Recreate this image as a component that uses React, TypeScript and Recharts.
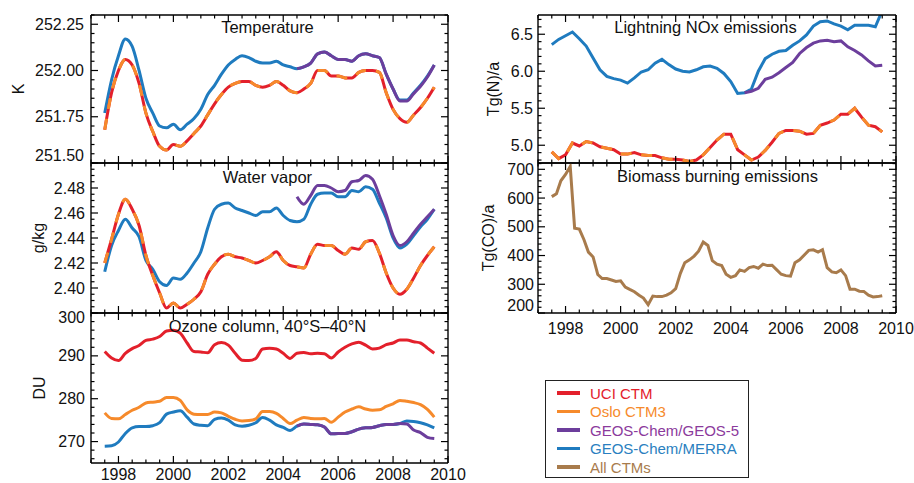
import React from "react"
import { LineChart, Line, XAxis, YAxis } from "recharts"

const FONT = '"Liberation Sans", Arial, Helvetica, sans-serif'

const RED = "#e3202b"
const ORANGE = "#f68a2b"
const PURPLE = "#6c3e9c"
const BLUE = "#1f7bbf"
const BROWN = "#a87b4c"

// quarterly time axis (12-month running means)
const years = [
  1997.5, 1997.75, 1998, 1998.25, 1998.5, 1998.75, 1999, 1999.25, 1999.5, 1999.75, 2000, 2000.25, 2000.5,
  2000.75, 2001, 2001.25, 2001.5, 2001.75, 2002, 2002.25, 2002.5, 2002.75, 2003, 2003.25, 2003.5, 2003.75,
  2004, 2004.25, 2004.5, 2004.75, 2005, 2005.25, 2005.5, 2005.75, 2006, 2006.25, 2006.5, 2006.75, 2007,
  2007.25, 2007.5, 2007.75, 2008, 2008.25, 2008.5, 2008.75, 2009, 2009.25, 2009.5,
]
// GEOS-5 run only starts mid 2004
const geos5Years = years.slice(28)

const bbYears = [
  1997.5, 1997.67, 1997.83, 1998, 1998.17, 1998.33, 1998.5, 1998.67, 1998.83, 1999, 1999.17, 1999.33, 1999.5,
  1999.67, 1999.83, 2000, 2000.17, 2000.33, 2000.5, 2000.67, 2000.83, 2001, 2001.17, 2001.33, 2001.5, 2001.67,
  2001.83, 2002, 2002.17, 2002.33, 2002.5, 2002.67, 2002.83, 2003, 2003.17, 2003.33, 2003.5, 2003.67, 2003.83,
  2004, 2004.17, 2004.33, 2004.5, 2004.67, 2004.83, 2005, 2005.17, 2005.33, 2005.5, 2005.67, 2005.83, 2006,
  2006.17, 2006.33, 2006.5, 2006.67, 2006.83, 2007, 2007.17, 2007.33, 2007.5, 2007.67, 2007.83, 2008, 2008.17,
  2008.33, 2008.5, 2008.67, 2008.83, 2009, 2009.17, 2009.33, 2009.5,
]

const xTicks = [
  1997, 1997.5, 1998, 1998.5, 1999, 1999.5, 2000, 2000.5, 2001, 2001.5, 2002, 2002.5, 2003, 2003.5, 2004,
  2004.5, 2005, 2005.5, 2006, 2006.5, 2007, 2007.5, 2008, 2008.5, 2009, 2009.5, 2010,
]
const xLabels = [1998, 2000, 2002, 2004, 2006, 2008, 2010]

// Temperature (K)
const tempUci = [
  251.68, 251.88, 252.0, 252.06, 252.03, 251.93, 251.77, 251.67, 251.59, 251.57, 251.6, 251.59, 251.62, 251.66,
  251.7, 251.76, 251.82, 251.87, 251.91, 251.93, 251.94, 251.94, 251.92, 251.91, 251.92, 251.94, 251.92, 251.89,
  251.88, 251.9, 251.93, 252.0, 252.0, 251.97, 251.97, 251.96, 251.96, 251.99, 252.0, 252.0, 251.99, 251.88,
  251.79, 251.74, 251.72, 251.76, 251.8, 251.85, 251.91,
]
const tempOslo = [
  251.68, 251.88, 252.0, 252.06, 252.03, 251.93, 251.77, 251.67, 251.59, 251.57, 251.6, 251.59, 251.62, 251.66,
  251.7, 251.76, 251.82, 251.87, 251.91, 251.93, 251.94, 251.94, 251.92, 251.91, 251.92, 251.94, 251.92, 251.89,
  251.88, 251.9, 251.93, 252.0, 252.0, 251.97, 251.97, 251.96, 251.96, 251.99, 252.0, 252.0, 251.99, 251.88,
  251.79, 251.74, 251.72, 251.76, 251.8, 251.85, 251.91,
]
const tempMerra = [
  251.77, 251.95, 252.08, 252.17, 252.13, 252.0, 251.85, 251.77, 251.7, 251.69, 251.71, 251.68, 251.71, 251.74,
  251.79, 251.87, 251.92, 251.98, 252.03, 252.06, 252.08, 252.07, 252.05, 252.04, 252.04, 252.05, 252.03, 252.02,
  252.01, 252.02, 252.04, 252.09, 252.1, 252.08, 252.06, 252.06, 252.05, 252.08, 252.09, 252.08, 252.07, 251.98,
  251.9, 251.84, 251.84, 251.88, 251.92, 251.97, 252.03,
]
const tempGeos5 = [
  252.01, 252.02, 252.04, 252.09, 252.1, 252.08, 252.06, 252.06, 252.05, 252.08, 252.09, 252.08, 252.07, 251.98,
  251.9, 251.835, 251.835, 251.875, 251.915, 251.965, 252.03,
]

// Water vapor (g/kg)
const wvUci = [
  2.42, 2.439, 2.459, 2.471, 2.463, 2.45, 2.426, 2.41, 2.396, 2.384, 2.388, 2.384, 2.387, 2.391, 2.397, 2.411,
  2.419, 2.425, 2.427, 2.425, 2.424, 2.422, 2.42, 2.422, 2.425, 2.429, 2.422, 2.418, 2.417, 2.416, 2.427, 2.435,
  2.434, 2.434, 2.43, 2.427, 2.432, 2.431, 2.437, 2.438, 2.428, 2.412, 2.4, 2.395, 2.399, 2.408, 2.418, 2.426,
  2.433,
]
const wvOslo = [
  2.42, 2.439, 2.459, 2.471, 2.463, 2.45, 2.426, 2.41, 2.396, 2.384, 2.388, 2.384, 2.387, 2.391, 2.397, 2.411,
  2.419, 2.425, 2.427, 2.425, 2.424, 2.422, 2.42, 2.422, 2.425, 2.429, 2.422, 2.418, 2.417, 2.416, 2.427, 2.435,
  2.434, 2.434, 2.43, 2.427, 2.432, 2.431, 2.437, 2.438, 2.428, 2.412, 2.4, 2.395, 2.399, 2.408, 2.418, 2.426,
  2.433,
]
const wvMerra = [
  2.413, 2.434, 2.446, 2.455, 2.448, 2.441, 2.422, 2.415, 2.405, 2.402, 2.408, 2.407, 2.412, 2.42, 2.429, 2.448,
  2.463, 2.467, 2.468, 2.464, 2.462, 2.46, 2.458, 2.461, 2.461, 2.464, 2.458, 2.454, 2.453, 2.455, 2.467, 2.475,
  2.476, 2.476, 2.473, 2.473, 2.478, 2.477, 2.481, 2.479, 2.468, 2.456, 2.44, 2.432, 2.435, 2.442, 2.449, 2.455,
  2.463,
]
const wvGeos5 = [
  2.473, 2.467, 2.474, 2.482, 2.482, 2.48, 2.477, 2.478, 2.485, 2.486, 2.49, 2.487, 2.474, 2.459, 2.442, 2.434,
  2.437, 2.444, 2.451, 2.457, 2.463,
]

// Ozone column, 40S-40N (DU)
const o3Uci = [
  291.0, 289.5, 288.9, 290.6, 291.7, 292.4, 293.6, 293.9, 294.5, 295.8, 296.0, 295.3, 293.0, 291.0, 290.9, 290.7,
  292.6, 293.1, 292.5, 290.6, 289.0, 288.9, 289.4, 291.6, 291.8, 291.6, 290.6, 289.4, 290.6, 290.8, 290.5, 290.6,
  290.5, 289.5, 290.9, 292.0, 292.8, 293.2, 292.5, 291.6, 291.8, 292.6, 293.0, 293.7, 293.7, 293.3, 293.0, 291.8,
  290.6,
]
const o3Oslo = [
  276.7, 275.4, 275.3, 276.3, 277.3, 278.0, 279.0, 279.2, 279.4, 280.3, 280.3, 279.6, 277.4, 276.4, 276.3, 276.3,
  276.9, 276.7, 275.9, 275.2, 274.8, 274.9, 275.3, 277.0, 277.0, 276.6, 275.4, 274.2, 275.0, 275.6, 275.4, 275.3,
  275.4, 274.5, 275.7, 276.9, 277.6, 278.1, 277.6, 277.3, 277.4, 278.2, 278.8, 279.6, 279.4, 279.1, 278.6, 277.5,
  275.7,
]
const o3Merra = [
  268.9, 269.0, 269.9, 271.9, 273.2, 273.5, 273.5, 273.7, 274.4, 276.4, 276.9, 277.2, 275.7, 274.1, 273.8, 273.7,
  275.2, 275.5, 275.0, 273.9, 273.6, 273.8, 274.4, 275.6, 275.0, 273.9, 273.3, 272.6, 273.6, 274.1, 274.0, 273.9,
  273.4, 271.8, 271.9, 271.9, 272.3, 272.9, 273.2, 273.3, 273.7, 274.0, 274.0, 274.2, 274.8, 274.7, 274.4, 273.9,
  273.2,
]
const o3Geos5 = [
  273.6, 274.1, 274.0, 273.9, 273.4, 271.8, 271.9, 271.9, 272.3, 272.9, 273.2, 273.3, 273.7, 274.0, 274.0, 274.2,
  274.1, 272.7, 272.1, 271.0, 270.7,
]

// Lightning NOx emissions (Tg(N)/a)
const lnoxUci = [
  4.91, 4.82, 4.87, 5.03, 4.99, 5.05, 5.03, 4.98, 4.96, 4.94, 4.88, 4.88, 4.9, 4.87, 4.86, 4.86, 4.83, 4.81, 4.81,
  4.8, 4.78, 4.8, 4.87, 4.97, 5.07, 5.15, 5.15, 4.94, 4.87, 4.8, 4.84, 4.93, 5.04, 5.16, 5.2, 5.2, 5.19, 5.15,
  5.16, 5.27, 5.3, 5.34, 5.42, 5.42, 5.5, 5.38, 5.27, 5.25, 5.18,
]
const lnoxOslo = [
  4.91, 4.82, 4.87, 5.03, 4.99, 5.05, 5.03, 4.98, 4.96, 4.94, 4.88, 4.88, 4.9, 4.87, 4.86, 4.86, 4.83, 4.81, 4.81,
  4.8, 4.78, 4.8, 4.87, 4.97, 5.07, 5.15, 5.15, 4.94, 4.87, 4.8, 4.84, 4.93, 5.04, 5.16, 5.2, 5.2, 5.19, 5.15,
  5.16, 5.27, 5.3, 5.34, 5.42, 5.42, 5.5, 5.38, 5.27, 5.25, 5.18,
]
const lnoxMerra = [
  6.36, 6.43, 6.48, 6.53, 6.44, 6.34, 6.18, 6.02, 5.93, 5.9, 5.88, 5.84, 5.91, 5.99, 6.02, 6.11, 6.16, 6.09, 6.03,
  6.0, 5.99, 6.02, 6.06, 6.07, 6.04, 5.97, 5.86, 5.7, 5.71, 5.76, 6.0, 6.17, 6.23, 6.27, 6.28, 6.35, 6.41, 6.49,
  6.61, 6.67, 6.68, 6.64, 6.61, 6.56, 6.62, 6.62, 6.62, 6.6, 6.82,
]
const lnoxGeos5 = [
  5.71, 5.73, 5.77, 5.89, 5.92, 5.98, 6.05, 6.12, 6.24, 6.32, 6.38, 6.41, 6.42, 6.4, 6.41, 6.33, 6.28, 6.22,
  6.14, 6.07, 6.08,
]

// Biomass burning emissions, all CTMs (Tg(CO)/a)
const bbAll = [
  605, 615, 660, 682, 710, 495, 492, 455, 412, 395, 334, 320, 320, 315, 310, 312, 290, 282, 274, 262, 252, 229,
  259, 257, 257, 262, 270, 285, 338, 375, 385, 398, 415, 447, 435, 382, 370, 365, 335, 324, 330, 350, 345, 358,
  362, 356, 370, 365, 366, 350, 335, 330, 328, 375, 385, 402, 418, 420, 412, 420, 358, 343, 340, 350, 330, 283,
  283, 276, 275, 262, 256, 257, 260,
]

const legendItems = [
  { name: "UCI CTM", color: RED, text: RED },
  { name: "Oslo CTM3", color: ORANGE, text: ORANGE },
  { name: "GEOS-Chem/GEOS-5", color: PURPLE, text: "#8b3a9c" },
  { name: "GEOS-Chem/MERRA", color: BLUE, text: "#2a7fc0" },
  { name: "All CTMs", color: BROWN, text: BROWN },
]

const steps = (a: number, b: number, s: number) => {
  const out: number[] = []
  for (let v = a; v <= b + s / 1000; v += s) out.push(+v.toFixed(4))
  return out
}

const pts = (xs: number[], ys: number[]) => xs.map((year, i) => ({ year, v: ys[i] }))

type Series = { xs: number[]; ys: number[]; color: string; dash?: string }

interface PanelProps {
  box: [number, number, number, number]
  domain: [number, number]
  minor: number[]
  major: number[]
  digits: number
  labelGap: number
  title: string
  titlePos: [number, number]
  yTitle: string
  yTitlePos: [number, number]
  series: Series[]
  showX?: boolean
  curve: "monotone" | "linear"
}

const near = (a: number, b: number) => Math.abs(a - b) < 1e-6

const Panel: React.FC<PanelProps> = ({
  box, domain, minor, major, digits, labelGap, title, titlePos, yTitle, yTitlePos, series, showX, curve,
}) => {
  const [x1, y1, x2, y2] = box
  const yTicks = Array.from(new Set([...minor, ...major])).sort((a, b) => a - b)
  const isMajor = (v: number) => major.some((m) => near(m, v))

  const leftTick = (p: any) => {
    const v = p.payload.value
    const maj = isMajor(v)
    let ly = p.y
    if (near(v, domain[0])) ly -= 7.5
    if (near(v, domain[1])) ly += 4
    return (
      <g>
        <line x1={p.x} x2={p.x + (maj ? 7 : 3.5)} y1={p.y} y2={p.y} stroke="#000" strokeWidth={1.2} />
        {maj && (
          <text x={p.x - labelGap} y={ly} textAnchor="end" dominantBaseline="central" fontSize={16} fontFamily={FONT} fill="#111">
            {v.toFixed(digits)}
          </text>
        )}
      </g>
    )
  }
  const rightTick = (p: any) => {
    const maj = isMajor(p.payload.value)
    return <line x1={p.x} x2={p.x - (maj ? 7 : 3.5)} y1={p.y} y2={p.y} stroke="#000" strokeWidth={1.2} />
  }
  const bottomTick = (p: any) => {
    const v = p.payload.value
    const maj = xLabels.includes(v)
    return (
      <g>
        <line x1={p.x} x2={p.x} y1={p.y} y2={p.y - (maj ? 7 : 3.5)} stroke="#000" strokeWidth={1.2} />
        {maj && showX && (
          <text x={p.x} y={Math.min(p.y + 21, 480)} textAnchor="middle" fontSize={16} fontFamily={FONT} fill="#111">
            {v}
          </text>
        )}
      </g>
    )
  }
  const topTick = (p: any) => {
    const maj = xLabels.includes(p.payload.value)
    return <line x1={p.x} x2={p.x} y1={p.y} y2={p.y + (maj ? 7 : 3.5)} stroke="#000" strokeWidth={1.2} />
  }

  // axes are 1px thick (recharts skips 0-sized axes), so margins leave 1px for them
  return (
    <div style={{ position: "absolute", left: 0, top: 0 }}>
      <LineChart width={914} height={483} margin={{ left: x1 - 1, top: y1 - 1, right: 914 - x2 - 1, bottom: 483 - y2 - 1 }}>
        {series.map((s, i) => (
          <Line key={i} data={pts(s.xs, s.ys)} dataKey="v" xAxisId="b" yAxisId="l" type={curve} stroke={s.color}
            strokeWidth={3} strokeDasharray={s.dash} dot={false} activeDot={false} isAnimationActive={false} />
        ))}
        <XAxis xAxisId="b" type="number" dataKey="year" domain={[1997, 2010]} allowDataOverflow ticks={xTicks}
          interval={0} height={1} tickSize={0} tickMargin={0} tickLine={false} tick={bottomTick}
          axisLine={{ stroke: "#000", strokeWidth: 1.4 }} />
        <XAxis xAxisId="t" orientation="top" type="number" dataKey="year" domain={[1997, 2010]} allowDataOverflow
          ticks={xTicks} interval={0} height={1} tickSize={0} tickMargin={0} tickLine={false} tick={topTick}
          axisLine={{ stroke: "#000", strokeWidth: 1.4 }}
          label={() => (
            <text x={titlePos[0]} y={titlePos[1]} textAnchor="middle" fontSize={16.5} fontFamily={FONT} fill="#111">
              {title}
            </text>
          )} />
        <YAxis yAxisId="l" type="number" domain={domain} allowDataOverflow ticks={yTicks} interval={0} width={1}
          tickSize={0} tickMargin={0} tickLine={false} tick={leftTick} axisLine={{ stroke: "#000", strokeWidth: 1.4 }}
          label={() => (
            <text x={yTitlePos[0]} y={yTitlePos[1]} transform={`rotate(-90 ${yTitlePos[0]} ${yTitlePos[1]})`}
              textAnchor="middle" dominantBaseline="central" fontSize={16} fontFamily={FONT} fill="#111">
              {yTitle}
            </text>
          )} />
        <YAxis yAxisId="r" orientation="right" type="number" domain={domain} allowDataOverflow ticks={yTicks}
          interval={0} width={1} tickSize={0} tickMargin={0} tickLine={false} tick={rightTick}
          axisLine={{ stroke: "#000", strokeWidth: 1.4 }} />
      </LineChart>
    </div>
  )
}

export default function App() {
  return (
    <div style={{ position: "absolute", left: 0, top: 0, width: 914, height: 483, background: "#fff", fontFamily: FONT }}>
      <Panel box={[91, 15, 448, 163]} domain={[251.5, 252.3]} minor={steps(251.5, 252.3, 0.05)}
        major={[251.5, 251.75, 252, 252.25]} digits={2} labelGap={7} title="Temperature" titlePos={[267.5, 33]}
        yTitle="K" yTitlePos={[18, 89]} curve="monotone"
        series={[
          { xs: years, ys: tempMerra, color: BLUE },
          { xs: geos5Years, ys: tempGeos5, color: PURPLE },
          { xs: years, ys: tempUci, color: RED },
          { xs: years, ys: tempOslo, color: ORANGE, dash: "11 10" },
        ]} />
      <Panel box={[91, 163, 448, 313]} domain={[2.38, 2.5]} minor={steps(2.38, 2.5, 0.005)}
        major={[2.4, 2.42, 2.44, 2.46, 2.48]} digits={2} labelGap={6} title="Water vapor" titlePos={[267.5, 183]}
        yTitle="g/kg" yTitlePos={[38, 238]} curve="monotone"
        series={[
          { xs: years, ys: wvMerra, color: BLUE },
          { xs: geos5Years, ys: wvGeos5, color: PURPLE },
          { xs: years, ys: wvUci, color: RED },
          { xs: years, ys: wvOslo, color: ORANGE, dash: "11 10" },
        ]} />
      <Panel box={[91, 313, 448, 463]} domain={[265, 300]} minor={steps(266, 300, 2)} major={[270, 280, 290, 300]}
        digits={0} labelGap={6} title="Ozone column, 40°S–40°N" titlePos={[267.5, 331.5]} yTitle="DU"
        yTitlePos={[39, 388]} curve="monotone" showX
        series={[
          { xs: years, ys: o3Uci, color: RED },
          { xs: years, ys: o3Oslo, color: ORANGE },
          { xs: years, ys: o3Merra, color: BLUE },
          { xs: geos5Years, ys: o3Geos5, color: PURPLE },
        ]} />
      <Panel box={[538, 15, 896, 163]} domain={[4.76, 6.76]} minor={steps(4.8, 6.7, 0.1)} major={[5, 5.5, 6, 6.5]}
        digits={1} labelGap={5} title="Lightning NOx emissions" titlePos={[705.5, 33]} yTitle="Tg(N)/a"
        yTitlePos={[493, 89]} curve="linear"
        series={[
          { xs: years, ys: lnoxMerra, color: BLUE },
          { xs: geos5Years, ys: lnoxGeos5, color: PURPLE },
          { xs: years, ys: lnoxUci, color: RED },
          { xs: years, ys: lnoxOslo, color: ORANGE, dash: "11 10" },
        ]} />
      <Panel box={[538, 163, 896, 313]} domain={[200, 722]} minor={steps(200, 720, 20)}
        major={[200, 300, 400, 500, 600, 700]} digits={0} labelGap={4} title="Biomass burning emissions"
        titlePos={[717.5, 182]} yTitle="Tg(CO)/a" yTitlePos={[488.5, 238]} curve="linear" showX
        series={[{ xs: bbYears, ys: bbAll, color: BROWN }]} />
      <div style={{ position: "absolute", left: 545, top: 380, width: 204, height: 98, border: "1.3px solid #222",
        boxSizing: "border-box", fontSize: 15 }}>
        {legendItems.map((it, i) => (
          <div key={it.name} style={{ position: "absolute", left: 11, top: 3 + i * 18.5, height: 18, display: "flex",
            alignItems: "center", whiteSpace: "nowrap" }}>
            <span style={{ display: "inline-block", width: 23, height: 3.5, background: it.color, marginRight: 10 }} />
            <span style={{ color: it.text }}>{it.name}</span>
          </div>
        ))}
      </div>
    </div>
  )
}
